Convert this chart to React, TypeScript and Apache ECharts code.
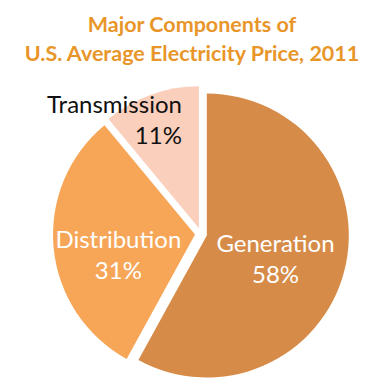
import React, { useEffect, useRef } from "react";
import * as echarts from "echarts";

const titleLines = ["Major Components of", "U.S. Average Electricity Price, 2011"];
const categories = ["Generation", "Distribution", "Transmission"];
const values = [58, 31, 11];
const colors = ["#D68C48", "#F7A658", "#FAD0BC"];

export default function App() {
  const ref = useRef<HTMLDivElement>(null);
  useEffect(() => {
    if (!ref.current) return;
    const chart = echarts.init(ref.current, undefined, { renderer: "svg" });
    const labelColors = ["#ffffff", "#ffffff", "#111111"];
    const labelShift = [
      { dx: -3, dy: 4, align: "center" },
      { dx: -3, dy: 12, align: "center" },
      { dx: 8, dy: -40, align: "right" },
    ];
    chart.setOption({
      animation: false,
      backgroundColor: "#ffffff",
      title: {
        text: titleLines.join("\n"),
        left: "center",
        top: 4,
        textStyle: {
          color: "#E8962A",
          fontFamily: "Lato",
          fontWeight: "bold",
          fontSize: 21.5,
          lineHeight: 29,
        },
      },
      series: [
        {
          type: "pie",
          center: [201, 234],
          radius: [0, 142],
          startAngle: 90,
          clockwise: true,
          selectedMode: "multiple",
          selectedOffset: 6,
          silent: true,
          itemStyle: { borderWidth: 0 },
          label: {
            show: true,
            position: "inside",
            formatter: (p: any) => `${p.name}\n${p.value}%`,
            fontFamily: "Lato",
            fontSize: 24,
            lineHeight: 31,
          },
          labelLine: { show: false },
          labelLayout: (p: any) => labelShift[p.dataIndex],
          data: categories.map((name, i) => ({
            name,
            value: values[i],
            selected: true,
            itemStyle: { color: colors[i] },
            label: { color: labelColors[i], align: labelShift[i].align },
            select: { itemStyle: { color: colors[i] } },
          })),
        },
      ],
    });
    return () => chart.dispose();
  }, []);
  return (
    <div
      ref={ref}
      style={{ position: "absolute", left: 0, top: 0, width: 384, height: 389 }}
    />
  );
}
